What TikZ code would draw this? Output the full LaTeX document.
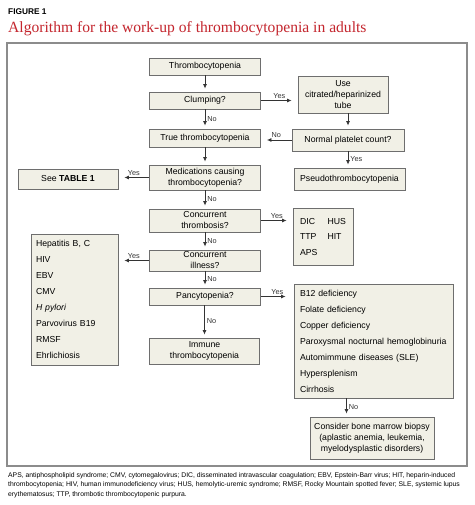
\documentclass[tikz,border=0pt]{standalone}
\usepackage{fontspec}
\setmainfont{Liberation Sans}
\newfontfamily\titlefont{Liberation Serif}
\usetikzlibrary{arrows.meta}
\definecolor{boxfill}{HTML}{F1F0E6}
\definecolor{boxline}{HTML}{6E6E6E}
\definecolor{framecol}{HTML}{8C8C8C}
\definecolor{titlered}{HTML}{C4262E}
\definecolor{arrcol}{HTML}{333333}
\begin{document}
\begin{tikzpicture}[x=1pt,y=-1pt,
 box/.style={draw=boxline, fill=boxfill, line width=0.8pt, inner sep=0pt, align=center, font=\fontsize{8.7}{11}\selectfont},
 listbox/.style={box, align=left, font=\fontsize{8.7}{16}\selectfont},
 arr/.style={-{Latex[length=4.5pt,width=4pt]}, line width=0.8pt, draw=arrcol, shorten >=3pt},
 harr/.style={arr, shorten >=6pt},
 lab/.style={font=\fontsize{7.3}{9}\selectfont, inner sep=2pt, text=arrcol},
]
\useasboundingbox (0,0) rectangle (474,505);
\fill[white] (0,0) rectangle (474,505);
% header
\node[anchor=base west, inner sep=0pt, font=\bfseries\fontsize{8.3}{10}\selectfont] (fig) at (8,15) {FIGURE 1};
\node[anchor=base west, inner sep=0pt, font=\titlefont\fontsize{15.6}{18}\selectfont, text=titlered] (title) at (8,33) {Algorithm for the work-up of thrombocytopenia in adults};
% frame
\draw[framecol, line width=1.2pt] (7,43) rectangle (467,466);
% main column
\node[box, minimum width=111pt, minimum height=17pt] (thr) at (205,66.5) {Thrombocytopenia};
\node[box, minimum width=111pt, minimum height=17pt] (clump) at (205,100.5) {Clumping?};
\node[box, minimum width=111pt, minimum height=18pt] (true) at (205,138) {True thrombocytopenia};
\node[box, minimum width=111pt, minimum height=25pt] (med) at (205,177.5) {Medications causing\\thrombocytopenia?};
\node[box, minimum width=111pt, minimum height=23pt] (thromb) at (205,220.5) {Concurrent\\thrombosis?};
\node[box, minimum width=111pt, minimum height=21pt] (ill) at (205,260.5) {Concurrent\\illness?};
\node[box, minimum width=111pt, minimum height=17pt] (pan) at (205,296.5) {Pancytopenia?};
\node[box, minimum width=110pt, minimum height=26pt] (imm) at (204.5,351) {Immune\\thrombocytopenia};
% right column
\node[box, minimum width=90pt, minimum height=37pt] (use) at (343,94.5) {Use\\citrated/heparinized\\tube};
\node[box, minimum width=112pt, minimum height=22pt] (norm) at (348,140) {Normal platelet count?};
\node[box, minimum width=111pt, minimum height=22pt] (pseudo) at (349.5,179) {Pseudothrombocytopenia};
\node[box, minimum width=60pt, minimum height=57pt, font=\fontsize{8.7}{15.5}\selectfont] (dic) at (323,236.5) {\begin{tabular}{@{}l@{\hspace{10pt}}l@{}}DIC & HUS\\ TTP & HIT\\ APS & \end{tabular}};
\node[listbox, minimum width=159pt, minimum height=114pt, text width=147pt] (b12) at (373.5,341) {B12 deficiency\\Folate deficiency\\Copper deficiency\\Paroxysmal nocturnal hemoglobinuria\\Automimmune diseases (SLE)\\Hypersplenism\\Cirrhosis};
\node[box, minimum width=124pt, minimum height=42pt] (bm) at (372,438) {Consider bone marrow biopsy\\(aplastic anemia, leukemia,\\myelodysplastic disorders)};
% left column
\node[box, minimum width=100pt, minimum height=20pt] (see) at (68,179) {See \textbf{TABLE 1}};
\node[listbox, minimum width=87pt, minimum height=131pt, text width=77pt] (hep) at (74.5,299.5) {Hepatitis B, C\\HIV\\EBV\\CMV\\\textit{H pylori}\\Parvovirus B19\\RMSF\\Ehrlichiosis};
% connectors
\draw[arr] (thr) -- (clump);
\draw[harr] (clump.east) -- (clump.east -| use.west) node[lab, midway, above] {Yes};
\draw[arr] (clump) -- node[lab, right] {No} (true);
\draw[arr] (norm.north |- use.south) -- (norm.north);
\draw[harr] (norm.west) -- (norm.west -| true.east) node[lab, midway, above] {No};
\draw[arr] (norm.south) -- node[lab, right] {Yes} (norm.south |- pseudo.north);
\draw[arr] (true) -- (med);
\draw[harr] (med.west) -- (med.west -| see.east) node[lab, midway, above] {Yes};
\draw[arr] (med) -- node[lab, right] {No} (thromb);
\draw[harr] (thromb.east) -- (thromb.east -| dic.west) node[lab, midway, above] {Yes};
\draw[arr] (thromb) -- node[lab, right] {No} (ill);
\draw[harr] (ill.west) -- (ill.west -| hep.east) node[lab, midway, above] {Yes};
\draw[arr] (ill) -- node[lab, right] {No} (pan);
\draw[harr, shorten >=8pt] (pan.east) -- (pan.east -| b12.west) node[lab, midway, above] {Yes};
\draw[arr] (pan.south -| imm.north) -- node[lab, right] {No} (imm.north);
\coordinate (b12out) at ([xshift=-27pt]b12.south);
\draw[arr] (b12out) -- node[lab, right] {No} (b12out |- bm.north);
% footnote
\node[anchor=north west, inner sep=0pt, align=left, font=\fontsize{6.8}{9.8}\selectfont] (foot) at (8,472) {APS, antiphospholipid syndrome; CMV, cytomegalovirus; DIC, disseminated intravascular coagulation; EBV, Epstein-Barr virus; HIT, heparin-induced\\thrombocytopenia; HIV, human immunodeficiency virus; HUS, hemolytic-uremic syndrome; RMSF, Rocky Mountain spotted fever; SLE, systemic lupus\\erythematosus; TTP, thrombotic thrombocytopenic purpura.};
\end{tikzpicture}
\end{document}
